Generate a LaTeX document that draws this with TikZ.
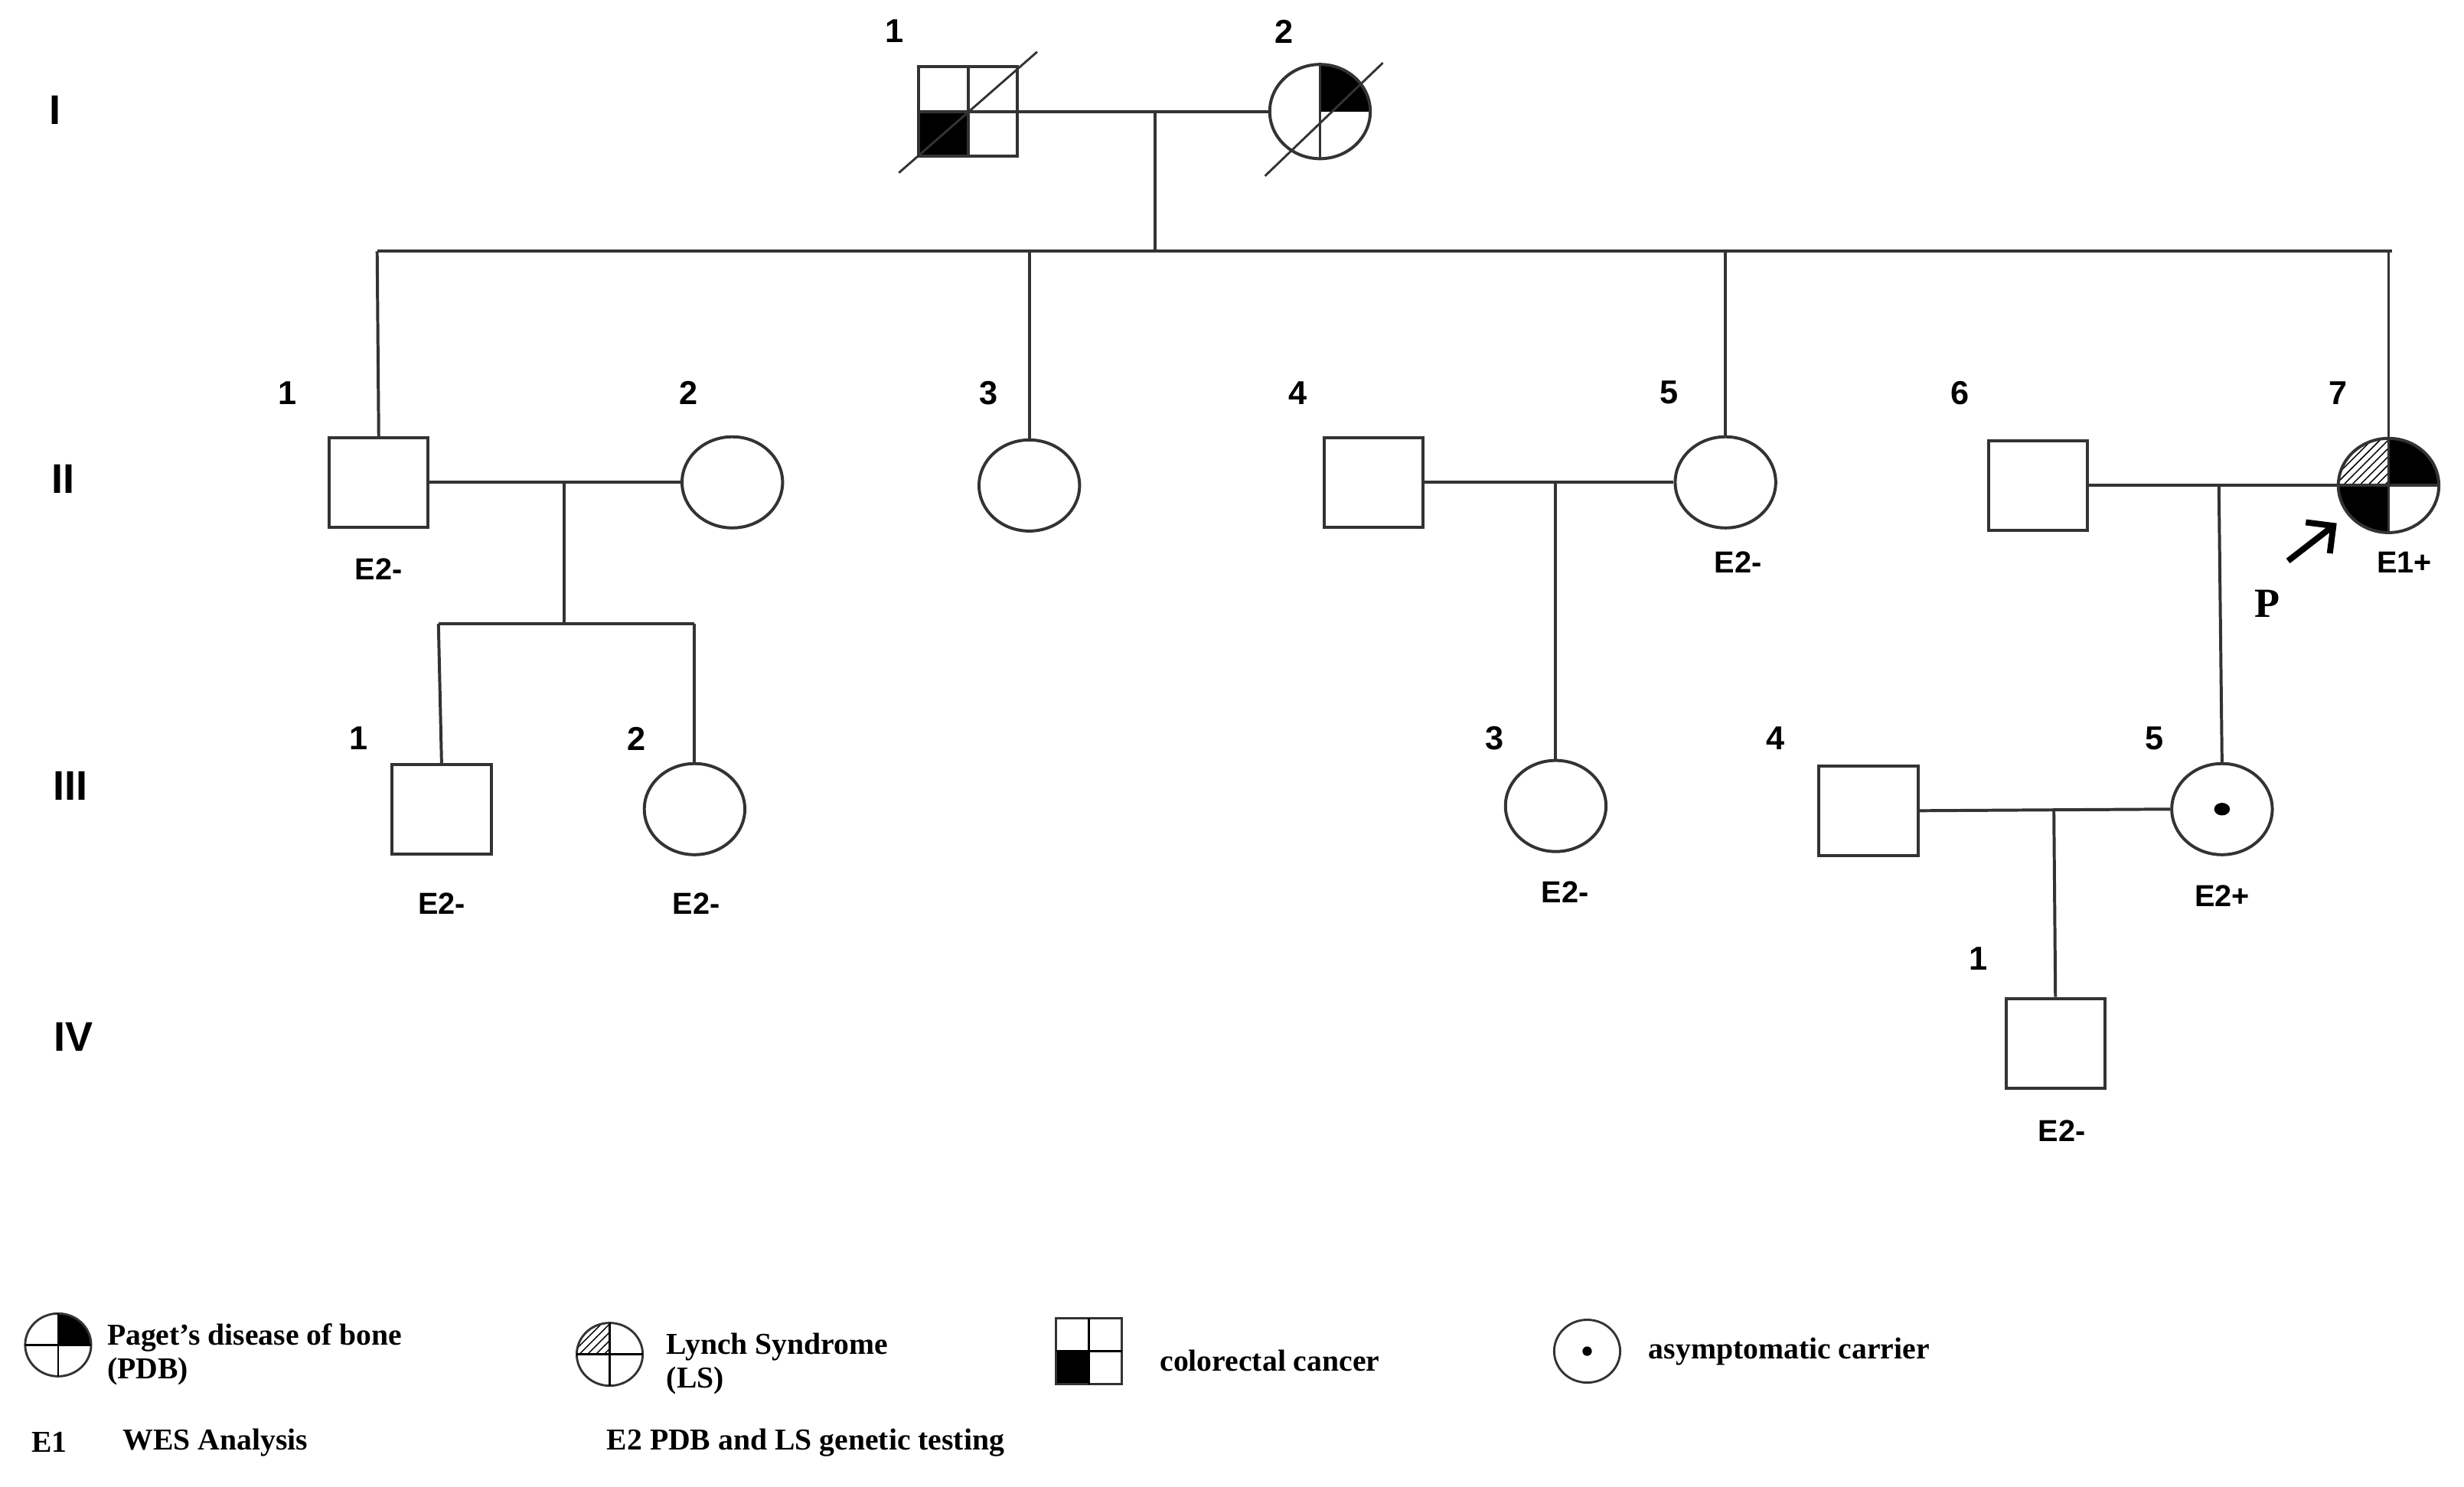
\documentclass[tikz,border=0pt]{standalone}
\usepackage{fontspec}
\setmainfont{Liberation Serif}
\setsansfont{Liberation Sans}
\usetikzlibrary{shapes.geometric,patterns,arrows.meta}
\begin{document}
\begin{tikzpicture}[x=0.02cm,y=-0.02cm,
  ln/.style={line width=1.1pt,draw=black!80},
  sq/.style={ln,rectangle,minimum width=1.26cm,minimum height=1.14cm,inner sep=0pt},
  ci/.style={ln,ellipse,minimum width=1.28cm,minimum height=1.16cm,inner sep=0pt},
  num/.style={font=\sffamily\bfseries\fontsize{12}{12}\selectfont},
  lab/.style={font=\sffamily\bfseries\fontsize{11}{11}\selectfont},
  gen/.style={font=\sffamily\bfseries\fontsize{15}{15}\selectfont},
  leg/.style={font=\rmfamily\bfseries\fontsize{11}{12}\selectfont,anchor=west,align=left}]
\useasboundingbox (0,0) rectangle (1568,946);
% generation labels
\node[gen] (gI) at (35,70) {I};
\node[gen] (gII) at (40,305) {II};
\node[gen] (gIII) at (45,500) {III};
\node[gen] (gIV) at (47,660) {IV};
% ---- Generation I
\fill (616,71) rectangle (585,100);
\node[sq] (i1) at (616,71) {};
\draw[ln] (616,42) -- (616,100) (585,71) -- (647,71);
\draw[ln,line width=0.8pt] (572,110) -- (660,33);
\fill (840,71) -- ++(0.64cm,0) arc[start angle=0,end angle=90,x radius=0.64cm,y radius=0.6cm] -- cycle;
\node[ci,minimum height=1.2cm] (i2) at (840,71) {};
\draw[ln] (840,41) -- (840,101);
\draw[ln,line width=0.8pt] (805,112) -- (880,40);
\node[num] at (569,20) {1};
\node[num] at (817,20) {2};
\draw[ln] (i1.east) -- (i2.west);
\coordinate (d1) at (735,71);
\coordinate (s1) at (735,160);
\draw[ln] (d1) -- (s1);
% ---- Generation II
\node[sq] (ii1) at (241,307) {};
\node[ci] (ii2) at (466,307) {};
\node[ci] (ii3) at (655,309) {};
\node[sq] (ii4) at (874,307) {};
\node[ci] (ii5) at (1098,307) {};
\node[sq] (ii6) at (1297,309) {};
\begin{scope}
\clip (1520,309) ellipse [x radius=0.64cm,y radius=0.6cm];
\fill[pattern=north east lines] (1520,309) rectangle (1480,270);
\fill (1520,309) rectangle (1560,270);
\fill (1520,309) rectangle (1480,350);
\end{scope}
\node[ci,minimum height=1.2cm] (ii7) at (1520,309) {};
\draw[ln] (1520,279) -- (1520,339) (1488,309) -- (1552,309);
\draw[ln] (240,160) -- (1522,160);
\draw[ln] (240,160) -- (ii1.north);
\draw[ln] (655,160) -- (ii3.north);
\draw[ln] (1098,160) -- (ii5.north);
\draw[ln] (1520,160) -- (ii7.north);
\foreach \t/\x in {1/183,2/438,3/629,4/826,5/1062,6/1247,7/1488}
  \node[num] at (\x,250) {\t};
\node[lab] at (241,362) {E2-};
\node[lab] at (1106,358) {E2-};
\node[lab] at (1530,358) {E1+};
\draw[ln] (ii1.east) -- (ii2.west);
\draw[ln] (ii4.east) -- (ii5.west);
\draw[ln] (ii6.east) -- (ii7.west);
\coordinate (a1) at (1456,357);
\coordinate (a2) at (1487,333);
\draw[line width=2.2pt,-{Straight Barb[length=2.5mm]}] (a1) -- (a2);
\node[font=\rmfamily\bfseries\fontsize{15}{15}\selectfont] (P) at (1443,384) {P};
% ---- Generation III
\node[sq] (iii1) at (281,515) {};
\node[ci] (iii2) at (442,515) {};
\node[ci] (iii3) at (990,513) {};
\node[sq] (iii4) at (1189,516) {};
\node[ci] (iii5) at (1414,515) {};
\fill (1414,515) ellipse [x radius=0.1cm,y radius=0.08cm];
\draw[ln] (359,307) -- (359,397);
\draw[ln] (279,397) -- (442,397);
\draw[ln] (279,397) -- (iii1.north);
\draw[ln] (442,397) -- (iii2.north);
\draw[ln] (990,307) -- (iii3.north);
\draw[ln] (1412,309) -- (iii5.north);
\draw[ln] (iii4.east) -- (iii5.west);
\foreach \t/\x in {1/228,2/405,3/951,4/1130,5/1371}
  \node[num] at (\x,470) {\t};
\node[lab] at (281,575) {E2-};
\node[lab] at (443,575) {E2-};
\node[lab] at (996,568) {E2-};
\node[lab] at (1414,570) {E2+};
% ---- Generation IV
\node[sq] (iv1) at (1308,664) {};
\draw[ln] (1307,516) -- (iv1.north);
\node[num] at (1259,610) {1};
\node[lab] at (1312,720) {E2-};
% ---- Legend
\fill (37,856) -- ++(0.42cm,0) arc[start angle=0,end angle=90,x radius=0.42cm,y radius=0.4cm] -- cycle;
\node[ci,minimum width=0.84cm,minimum height=0.8cm,line width=0.8pt] (lp) at (37,856) {};
\draw[line width=0.8pt] (16,856) -- (58,856) (37,836) -- (37,876);
\node[leg] at (62,862) {Paget's disease of bone\\(PDB)};
\begin{scope}
\clip (388,862) ellipse [x radius=0.42cm,y radius=0.4cm];
\fill[pattern=north east lines] (388,862) rectangle (366,840);
\end{scope}
\node[ci,minimum width=0.84cm,minimum height=0.8cm,line width=0.8pt] (ll) at (388,862) {};
\draw[line width=0.8pt] (367,862) -- (409,862) (388,842) -- (388,882);
\node[leg] at (418,868) {Lynch Syndrome\\(LS)};
\fill (693,860) rectangle (672,881);
\node[sq,minimum width=0.84cm,minimum height=0.84cm,line width=0.8pt] (lc) at (693,860) {};
\draw[line width=0.8pt] (672,860) -- (714,860) (693,839) -- (693,881);
\node[leg] at (732,866) {colorectal cancer};
\node[ci,minimum width=0.84cm,minimum height=0.8cm,line width=0.8pt] (la) at (1010,860) {};
\fill (1010,860) circle (0.06cm);
\node[leg] at (1043,860) {asymptomatic carrier};
\node[leg] at (14,918) {E1};
\node[leg] at (72,918) {WES Analysis};
\node[leg] at (380,918) {E2 PDB and LS genetic testing};
\end{tikzpicture}
\end{document}
